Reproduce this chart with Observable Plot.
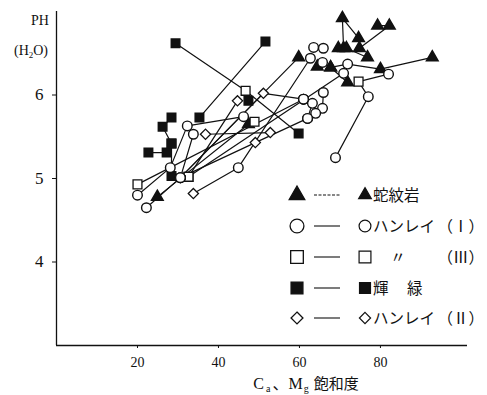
<!DOCTYPE html>
<html>
<head>
<meta charset="utf-8">
<script src="https://cdn.jsdelivr.net/npm/d3@7"></script>
<script src="https://cdn.jsdelivr.net/npm/@observablehq/plot@0.6"></script>
<style>
  body { margin: 0; background: #fff; }
  #chart svg { display: block; }
</style>
</head>
<body>
<div id="chart"></div>
<script>
// Soil profiles: each row is [profile, horizon order, Ca·Mg saturation (%), pH (H2O)].
// Horizons of one profile are joined by a line in the listed order.
const serpentine = [ // ▲ 蛇紋岩
  [5, 0, 74.6, 6.68], [5, 1, 70.6, 6.92], [5, 2, 70.9, 6.56],
  [6, 0, 79.3, 6.83], [6, 1, 82.2, 6.83], [6, 2, 74.8, 6.56],
  [7, 0, 69.6, 6.56], [7, 1, 71.6, 6.56], [7, 2, 76.8, 6.45],
  [8, 0, 64.4, 6.34], [8, 2, 67.7, 6.33], [8, 4, 80.0, 6.31], [8, 5, 92.8, 6.45],
  [9, 0, 67.7, 6.33], [9, 1, 71.9, 6.15],
  [14, 0, 59.8, 6.45],
  [15, 0, 24.9, 4.78], [15, 1, 47.4, 5.65]
];
const gabbroI = [ // ○ ハンレイ（Ⅰ）
  [8, 1, 65.7, 6.39], [8, 3, 71.9, 6.37],
  [10, 0, 82.0, 6.25], [10, 2, 77.0, 5.98], [10, 3, 68.9, 5.25],
  [11, 0, 63.5, 6.57], [11, 1, 65.9, 6.56],
  [12, 0, 62.7, 6.44], [12, 1, 44.9, 5.13],
  [13, 0, 70.9, 6.26],
  [14, 1, 30.6, 5.01],
  [16, 0, 61.0, 5.95], [16, 1, 63.2, 5.90], [16, 2, 62.0, 5.72],
  [17, 0, 65.9, 6.03], [17, 1, 65.7, 5.84], [17, 2, 64.0, 5.78],
  [18, 0, 20.0, 4.80], [18, 1, 28.1, 5.13], [18, 2, 32.3, 5.63], [18, 3, 46.2, 5.74],
  [19, 1, 61.0, 5.95],
  [20, 0, 22.2, 4.65], [20, 1, 30.6, 5.01], [20, 3, 61.0, 5.95],
  [21, 0, 33.8, 5.53], [21, 1, 30.6, 5.01],
  [23, 0, 30.6, 5.01], [23, 2, 62.0, 5.72]
];
const gabbroIII = [ // □ ハンレイ（Ⅲ）
  [1, 1, 46.7, 6.05], [10, 1, 74.6, 6.16], [13, 1, 32.6, 5.02],
  [18, 4, 48.9, 5.68], [19, 0, 20.0, 4.93], [24, 1, 32.6, 5.02]
];
const diabase = [ // ■ 輝緑
  [1, 0, 29.4, 6.62], [1, 2, 59.8, 5.54],
  [2, 0, 51.6, 6.64], [2, 1, 35.3, 5.73],
  [3, 0, 28.4, 5.73], [3, 1, 26.2, 5.62], [3, 2, 28.4, 5.42], [3, 3, 28.4, 5.03],
  [4, 0, 22.7, 5.31], [4, 1, 27.2, 5.31], [4, 2, 28.4, 5.42],
  [25, 0, 47.4, 5.93]
];
const gabbroII = [ // ◇ ハンレイ（Ⅱ）
  [12, 2, 33.8, 4.82], [20, 2, 51.1, 6.02],
  [22, 0, 36.8, 5.53], [22, 1, 52.8, 5.55],
  [23, 1, 49.1, 5.43], [24, 0, 44.7, 5.93]
];

const xTicks = [20, 40, 60, 80];
const yTicks = [4, 5, 6];

const rows = (arr) => arr.map(([p, k, x, y]) => ({p, k, x, y}));
const tri = rows(serpentine), circ = rows(gabbroI), sq = rows(gabbroIII),
      blk = rows(diabase), dia = rows(gabbroII);
const path = [...tri, ...circ, ...sq, ...blk, ...dia]
  .sort((a, b) => a.p - b.p || a.k - b.k);

const ink = "#111";
const chart = Plot.plot({
  width: 487,
  height: 395,
  marginLeft: 56,
  marginRight: 20,
  marginTop: 11,
  marginBottom: 50,
  style: {fontFamily: "'Liberation Serif', serif", fontSize: "14px", color: ink, background: "#fff"},
  x: {domain: [0, 101.5], label: null},
  y: {domain: [3, 7], label: null},
  marks: [
    Plot.ruleX([0], {stroke: ink, strokeWidth: 1.3}),
    Plot.ruleY([3], {stroke: ink, strokeWidth: 1.3}),
    Plot.axisX({ticks: xTicks, tickFormat: "d", tickSize: 3, tickPadding: 9, fontSize: 14, label: null}),
    Plot.axisY({ticks: yTicks, tickFormat: "d", tickSize: 4, tickPadding: 9, fontSize: 17, label: null}),
    Plot.line(path, {x: "x", y: "y", z: "p", stroke: ink, strokeWidth: 1.2}),
    Plot.dot(blk, {x: "x", y: "y", symbol: "square", r: 4.8, fill: ink, stroke: ink}),
    Plot.dot(tri, {x: "x", y: "y", symbol: "triangle", r: 4.3, fill: ink, stroke: ink}),
    Plot.dot(sq, {x: "x", y: "y", symbol: "square", r: 5, fill: "#fff", stroke: ink, strokeWidth: 1.3}),
    Plot.dot(dia, {x: "x", y: "y", symbol: "diamond2", r: 4.6, fill: "#fff", stroke: ink, strokeWidth: 1.3}),
    Plot.dot(circ, {x: "x", y: "y", symbol: "circle", r: 4.8, fill: "#fff", stroke: ink, strokeWidth: 1.4})
  ]
});
document.getElementById("chart").append(chart);

const svg = d3.select(chart);
const cjk = "'Noto Sans CJK JP', 'Noto Sans', sans-serif";

// y-axis title: PH (H2O)
svg.append("text").attr("x", 40).attr("y", 25).attr("text-anchor", "middle")
  .attr("font-family", "'Liberation Serif', serif").attr("font-size", 14).attr("fill", ink).text("PH");
const h2o = svg.append("text").attr("x", 31).attr("y", 55).attr("text-anchor", "middle")
  .attr("font-family", "'Liberation Serif', serif").attr("font-size", 14).attr("fill", ink);
h2o.append("tspan").text("(H");
h2o.append("tspan").attr("font-size", 9).attr("dy", 3).text("2");
h2o.append("tspan").attr("dy", -3).text("O)");

// x-axis title: Ca、Mg 飽和度
const xt = svg.append("text").attr("x", 306).attr("y", 389)
  .attr("font-family", "'Liberation Serif', serif").attr("font-size", 16).attr("fill", ink);
xt.append("tspan").text("C");
xt.append("tspan").attr("font-size", 10).attr("dy", 3).attr("dx", 2).text("a");
xt.append("tspan").attr("dy", -3).attr("dx", 2).attr("font-family", cjk).text("、");
xt.append("tspan").text("M");
xt.append("tspan").attr("font-size", 10).attr("dy", 3).attr("dx", 1).text("g");
xt.append("tspan").attr("dy", -3).attr("dx", 5).attr("font-family", cjk).attr("font-size", 15).text("飽和度");

// legend: symbol — symbol + rock name
const legend = [
  {sym: d3.symbolTriangle, fill: ink, size: 105, small: 70, dash: "3,1.5", parts: [["蛇紋岩", 373, "start"]]},
  {sym: d3.symbolCircle, fill: "#fff", size: 150, small: 110, dash: null, parts: [["ハンレイ", 373, "start"], ["（Ⅰ）", 484, "end"]]},
  {sym: d3.symbolSquare, fill: "#fff", size: 160, small: 140, dash: null, parts: [["〃", 398, "middle"], ["（Ⅲ）", 484, "end"]]},
  {sym: d3.symbolSquare, fill: ink, size: 140, small: 120, dash: null, parts: [["輝", 373, "start"], ["緑", 407, "start"]]},
  {sym: d3.symbolDiamond2, fill: "#fff", size: 90, small: 80, dash: null, parts: [["ハンレイ", 373, "start"], ["（Ⅱ）", 484, "end"]]}
];
const rowY = [195, 226, 257, 288, 318];
const g = svg.append("g");
legend.forEach((d, i) => {
  const y = rowY[i];
  g.append("path").attr("d", d3.symbol(d.sym, d.size)())
    .attr("transform", `translate(297,${y})`)
    .attr("fill", d.fill).attr("stroke", ink).attr("stroke-width", 1.3);
  g.append("line").attr("x1", 314).attr("x2", 340).attr("y1", y).attr("y2", y)
    .attr("stroke", ink).attr("stroke-width", 1.1).attr("stroke-dasharray", d.dash);
  g.append("path").attr("d", d3.symbol(d.sym, d.small)())
    .attr("transform", `translate(365,${y})`)
    .attr("fill", d.fill).attr("stroke", ink).attr("stroke-width", 1.2);
  d.parts.forEach(([t, x, anchor]) => {
    g.append("text").attr("x", x).attr("y", y).attr("dy", "0.36em")
      .attr("text-anchor", anchor).attr("font-family", cjk).attr("font-size", 15.5)
      .attr("fill", ink).text(t);
  });
});
</script>
</body>
</html>
